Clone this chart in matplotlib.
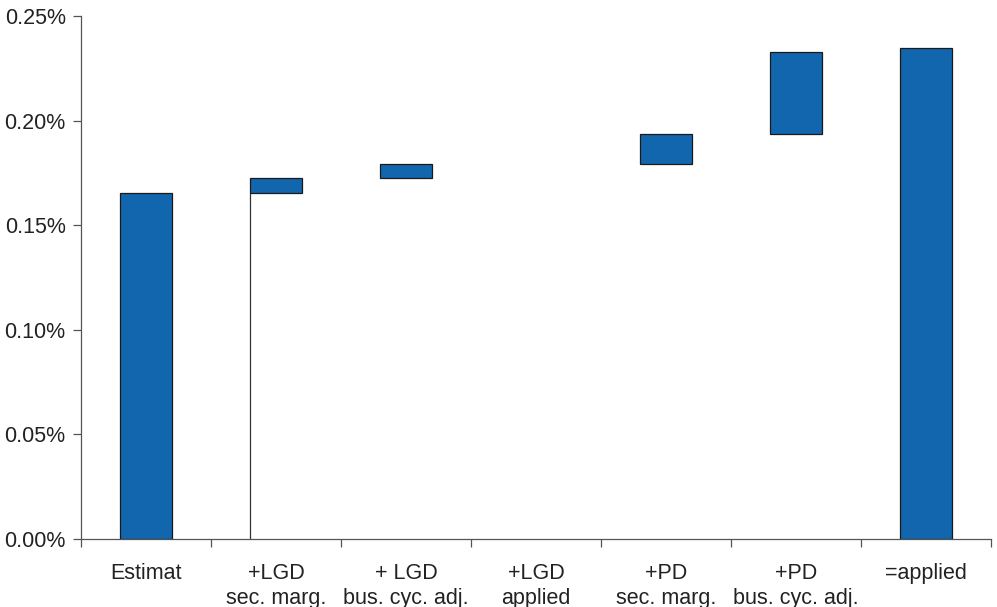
import numpy as np
import matplotlib.pyplot as plt
from matplotlib.ticker import FuncFormatter

plt.rcParams['font.family'] = ['Liberation Sans', 'DejaVu Sans']

# Waterfall data (in %)
categories = ["Estimat", "+LGD\nsec. marg.", "+ LGD\nbus. cyc. adj.", "+LGD\napplied",
              "+PD\nsec. marg.", "+PD\nbus. cyc. adj.", "=applied"]
steps = [0.1654, 0.0072, 0.0067, 0.0, 0.0144, 0.0392, None]
total = 0.2347

# build base / height for each bar
bases = []
heights = []
running = 0.0
for i, s in enumerate(steps):
    if i == 0:
        bases.append(0.0)
        heights.append(s)
        running = s
    elif s is None:
        bases.append(0.0)
        heights.append(total)
    else:
        bases.append(running)
        heights.append(s)
        running = running + s

x = np.arange(len(categories))
width = 0.4
bar_color = "#1166AD"
line_widths = [0.9 if h > 0 else 0 for h in heights]

fig = plt.figure(figsize=(9.97, 6.07), dpi=100)
ax = fig.add_axes([81 / 997, 1 - 539 / 607, 910 / 997, (539 - 16) / 607])

ax.bar(x, heights, width=width, bottom=bases, color=bar_color,
       edgecolor="#1a1a1a", linewidth=line_widths, zorder=3)

# left edge of the hidden base under the first step
ax.vlines(x[1] - width / 2, 0, bases[1], color="#333333", linewidth=0.9, zorder=2)

ax.set_xlim(-0.5, len(categories) - 0.5)
ax.set_ylim(0, 0.25)
ax.set_yticks(np.arange(0, 0.2501, 0.05))
ax.yaxis.set_major_formatter(FuncFormatter(lambda v, p: "%.2f%%" % v))

# labels centred on bars, tick marks between categories
ax.set_xticks(x)
ax.set_xticklabels(categories, fontsize=15.5, linespacing=1.3, color="#222222")
ax.tick_params(axis="x", which="major", length=0, pad=17)
ax.set_xticks(np.arange(-0.5, len(categories) - 0.4, 1.0), minor=True)
ax.tick_params(axis="x", which="minor", length=6, width=0.9, color="#555555", direction="out")
ax.tick_params(axis="y", length=6, width=0.9, color="#555555", labelsize=15.5,
               labelcolor="#222222", pad=5)

for side in ["top", "right"]:
    ax.spines[side].set_visible(False)
for side in ["left", "bottom"]:
    ax.spines[side].set_color("#555555")
    ax.spines[side].set_linewidth(0.9)

fig.savefig("out.png", dpi=100)
